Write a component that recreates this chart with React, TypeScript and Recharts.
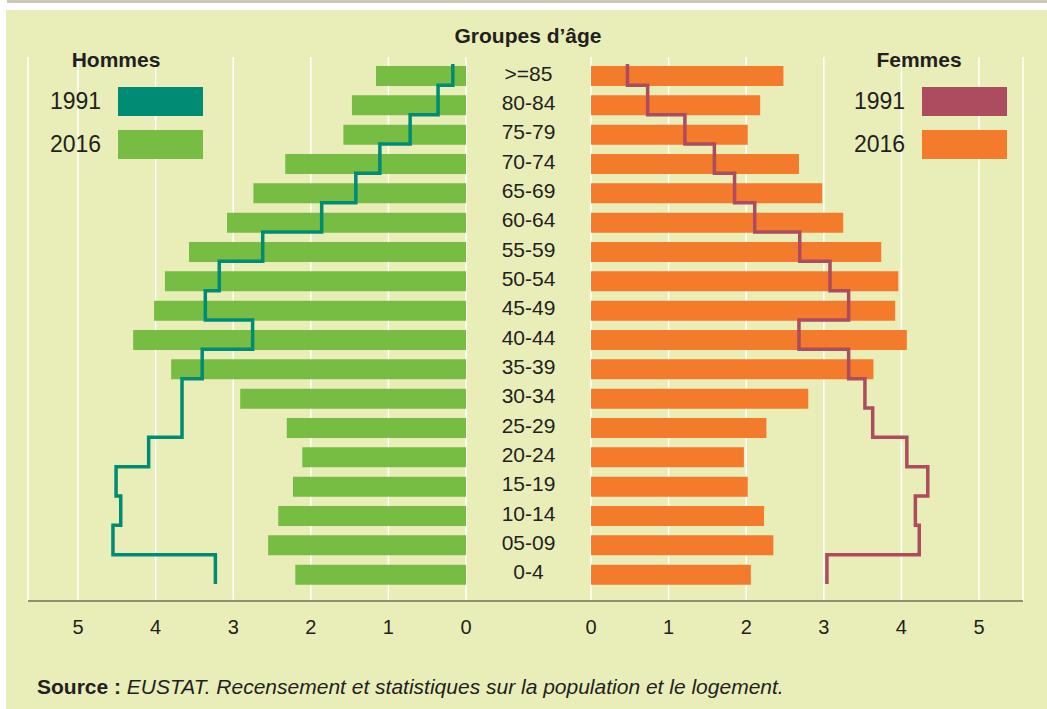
import React from 'react'
import {
  ComposedChart,
  Bar,
  Line,
  XAxis,
  YAxis,
  CartesianGrid,
} from 'recharts'

const ageGroups = ['>=85', '80-84', '75-79', '70-74', '65-69', '60-64', '55-59', '50-54', '45-49', '40-44', '35-39', '30-34', '25-29', '20-24', '15-19', '10-14', '05-09', '0-4']
const hommes2016 = [1.16, 1.47, 1.58, 2.33, 2.74, 3.08, 3.57, 3.88, 4.02, 4.29, 3.8, 2.91, 2.31, 2.11, 2.23, 2.42, 2.55, 2.2]
const hommes1991 = [0.17, 0.36, 0.72, 1.11, 1.42, 1.86, 2.62, 3.18, 3.36, 2.75, 3.4, 3.66, 3.66, 4.09, 4.51, 4.45, 4.55, 3.23]
const femmes2016 = [2.48, 2.18, 2.02, 2.68, 2.98, 3.25, 3.74, 3.96, 3.92, 4.07, 3.64, 2.8, 2.26, 1.97, 2.02, 2.23, 2.35, 2.06]
const femmes1991 = [0.47, 0.73, 1.21, 1.59, 1.85, 2.11, 2.69, 3.08, 3.32, 2.68, 3.32, 3.53, 3.63, 4.07, 4.34, 4.18, 4.23, 3.04]
const xTicks = [0, 1, 2, 3, 4, 5]

const FONT = '"Liberation Sans", Arial, sans-serif'
const INK = '#231f20'
const BG = '#e9eeb8'
const GREEN = '#77bc43'
const TEAL = '#008b74'
const ORANGE = '#f47a2c'
const MAROON = '#ad4b5f'

const data = ageGroups.map((age, i) => ({
  age,
  h2016: hommes2016[i],
  h1991: hommes1991[i],
  f2016: femmes2016[i],
  f1991: femmes1991[i],
}))

// vertical step: one vertical run per age group, horizontal jump near the bar bottom
function verticalStep(context: any) {
  let pts: [number, number][] = []
  return {
    areaStart() {},
    areaEnd() {},
    lineStart() {
      pts = []
    },
    point(x: number, y: number) {
      pts.push([+x, +y])
    },
    lineEnd() {
      const n = pts.length
      if (!n) return
      const gap = n > 1 ? pts[1][1] - pts[0][1] : 20
      const down = gap * 0.33
      context.moveTo(pts[0][0], pts[0][1] - gap * 0.4)
      for (let i = 0; i < n; i++) {
        const [x, y] = pts[i]
        context.lineTo(x, y + down)
        if (i < n - 1) context.lineTo(pts[i + 1][0], y + down)
      }
    },
  }
}

const tickStyle = { fontSize: 20, fill: INK, fontFamily: FONT }
const yPadding = { top: 4, bottom: 12 }

function AgeTick(props: any) {
  const { x, y, payload } = props
  return (
    <text x={x + 62.5} y={y} dy={5} textAnchor="middle" fontSize={21} fill={INK} fontFamily={FONT}>
      {payload.value}
    </text>
  )
}

function Legend({ left, swatchLeft, c1991, c2016 }: { left: number; swatchLeft: number; c1991: string; c2016: string }) {
  const txt: React.CSSProperties = { position: 'absolute', left, fontSize: 23, color: INK, fontFamily: FONT, lineHeight: '23px' }
  const sw: React.CSSProperties = { position: 'absolute', left: swatchLeft, width: 85, height: 29 }
  return (
    <>
      <div style={{ ...txt, top: 90 }}>1991</div>
      <div style={{ ...sw, top: 87, background: c1991 }} />
      <div style={{ ...txt, top: 133 }}>2016</div>
      <div style={{ ...sw, top: 130, background: c2016 }} />
    </>
  )
}

export default function App() {
  const heading: React.CSSProperties = {
    position: 'absolute',
    fontFamily: FONT,
    fontWeight: 700,
    fontSize: 21,
    color: INK,
    textAlign: 'center',
    lineHeight: '21px',
  }
  return (
    <div style={{ position: 'absolute', left: 0, top: 0, width: 1047, height: 709, background: '#ffffff', overflow: 'hidden' }}>
      <div style={{ position: 'absolute', left: 7, top: 0, width: 1040, height: 3, background: '#ccc8b5' }} />
      <div style={{ position: 'absolute', left: 6, top: 10, width: 1041, height: 699, background: BG }} />

      <div style={{ position: 'absolute', left: 0, top: 0 }}>
        <ComposedChart width={600} height={709} data={data} layout="vertical" margin={{ top: 57, left: 28, right: 9, bottom: 78 }}>
          <CartesianGrid horizontal={false} stroke="#ffffff" strokeWidth={1.5} />
          <XAxis
            type="number"
            domain={[0, 5.645]}
            allowDataOverflow
            reversed
            ticks={xTicks}
            axisLine={false}
            tickLine={false}
            tickSize={0}
            tickMargin={19}
            tick={tickStyle}
          />
          <YAxis
            type="category"
            dataKey="age"
            orientation="right"
            width={125}
            axisLine={false}
            tickLine={false}
            tickSize={0}
            tickMargin={0}
            padding={yPadding}
            tick={<AgeTick />}
            interval={0}
          />
          <Bar dataKey="h2016" fill={GREEN} barSize={20} isAnimationActive={false} />
          <Line dataKey="h1991" stroke={TEAL} strokeWidth={3.5} dot={false} type={verticalStep as any} isAnimationActive={false} />
        </ComposedChart>
      </div>

      <div style={{ position: 'absolute', left: 0, top: 0 }}>
        <ComposedChart width={1047} height={709} data={data} layout="vertical" margin={{ top: 57, left: 591, right: 24, bottom: 78 }}>
          <CartesianGrid horizontal={false} stroke="#ffffff" strokeWidth={1.5} />
          <XAxis
            type="number"
            domain={[0, 5.567]}
            allowDataOverflow
            ticks={xTicks}
            axisLine={false}
            tickLine={false}
            tickSize={0}
            tickMargin={19}
            tick={tickStyle}
          />
          <YAxis type="category" dataKey="age" hide padding={yPadding} />
          <Bar dataKey="f2016" fill={ORANGE} barSize={20} isAnimationActive={false} />
          <Line dataKey="f1991" stroke={MAROON} strokeWidth={3.5} dot={false} type={verticalStep as any} isAnimationActive={false} />
        </ComposedChart>
      </div>

      <div style={{ position: 'absolute', left: 28, top: 600, width: 995, height: 2, background: '#8f8f75' }} />

      <div style={{ ...heading, left: 428, top: 25, width: 200 }}>Groupes d’âge</div>
      <div style={{ ...heading, left: 46, top: 49, width: 140 }}>Hommes</div>
      <div style={{ ...heading, left: 849, top: 49, width: 140 }}>Femmes</div>

      <Legend left={50} swatchLeft={118} c1991={TEAL} c2016={GREEN} />
      <Legend left={854} swatchLeft={922} c1991={MAROON} c2016={ORANGE} />

      <div style={{ position: 'absolute', left: 37, top: 675, fontFamily: FONT, fontSize: 21, color: INK, lineHeight: '23px', whiteSpace: 'nowrap' }}>
        <b>Source : </b>
        <i>EUSTAT. Recensement et statistiques sur la population et le logement.</i>
      </div>
    </div>
  )
}
